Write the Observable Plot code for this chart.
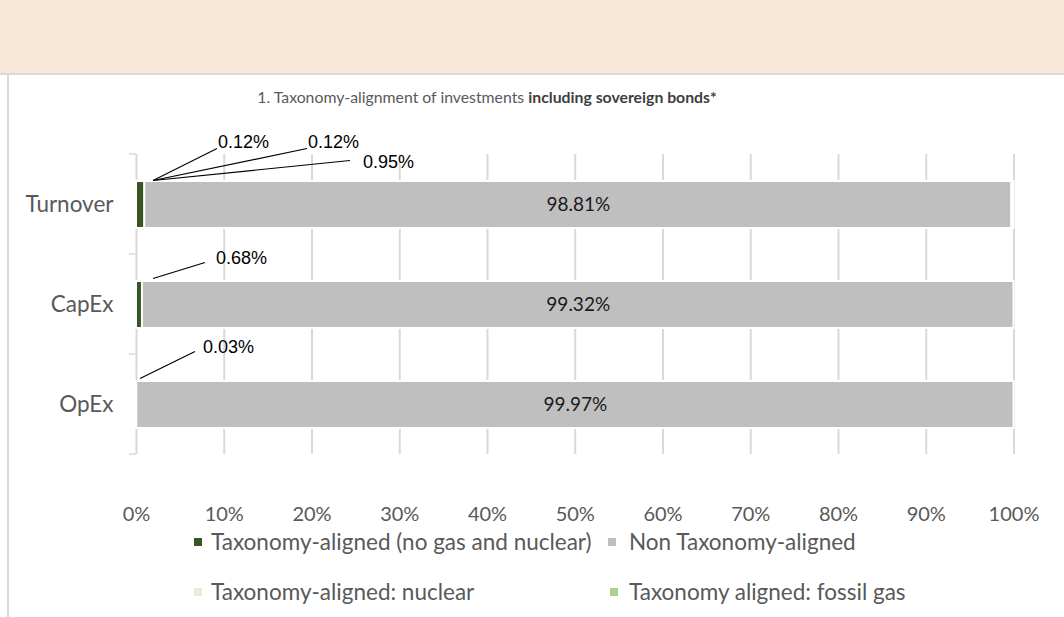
<!DOCTYPE html>
<html>
<head>
<meta charset="utf-8">
<script src="https://cdn.jsdelivr.net/npm/d3@7"></script>
<script src="https://cdn.jsdelivr.net/npm/@observablehq/plot@0.6"></script>
<style>
  html, body { margin: 0; padding: 0; background: #fff; }
  body { width: 1064px; height: 617px; overflow: hidden; position: relative; font-family: Lato, "Open Sans", sans-serif; }
  #band { position: absolute; left: 0; top: 0; width: 1064px; height: 73px; background: #f9e8d7; border-bottom: 2px solid #d9d9d9; }
  #panelLeft { position: absolute; left: 7px; top: 75px; height: 542px; border-left: 2px solid #d9d9d9; }
  #title { position: absolute; left: 0; top: 87px; width: 974px; text-align: center; font-size: 15.8px; line-height: 20px; color: #595959; white-space: nowrap; }
  #title b { color: #404040; }
  #chart { position: absolute; left: 0; top: 0; }
  .leg { position: absolute; font-size: 22.5px; line-height: 26px; color: #595959; white-space: nowrap; }
  .sw { position: absolute; width: 8px; height: 8px; }
</style>
</head>
<body>
<div id="band"></div>
<div id="panelLeft"></div>
<div id="title">1. Taxonomy-alignment of investments <b>including sovereign bonds*</b></div>
<div id="chart"></div>
<div id="legend"></div>
<script>
// ---- data ----
const categories = ["Turnover", "CapEx", "OpEx"];
const seriesNames = [
  "Taxonomy-aligned (no gas and nuclear)",
  "Non Taxonomy-aligned",
  "Taxonomy-aligned: nuclear",
  "Taxonomy aligned: fossil gas"
];
const alignedNoGasNuclear = [0.95, 0.68, 0.03];
const nonAligned = [98.81, 99.32, 99.97];
const nuclear = [0.12, 0, 0];
const fossilGas = [0.12, 0, 0];
const xTicks = [0, 10, 20, 30, 40, 50, 60, 70, 80, 90, 100];
const seriesColors = ["#375623", "#bfbfbf", "#e2efda", "#a9d08e"];

// ---- callout layout (pixel offsets from bar's top-left) ----
const callouts = [
  {category: "Turnover", series: 2, anchor: [17, -0.5], end: [81, -32.5], label: [82, -39.5]},
  {category: "Turnover", series: 3, anchor: [17, -0.5], end: [171, -32.5], label: [172, -39.5]},
  {category: "Turnover", series: 0, anchor: [17, -0.5], end: [214, -20.5], label: [227, -19.5]},
  {category: "CapEx", series: 0, anchor: [17, -2.5], end: [69, -18.5], label: [80, -23]},
  {category: "OpEx", series: 0, anchor: [4, -2.5], end: [59, -29.5], label: [67, -34.5]}
];

const valuesBySeries = [alignedNoGasNuclear, nonAligned, nuclear, fossilGas];
const rows = [];
categories.forEach((c, i) => {
  seriesNames.forEach((s, j) => rows.push({category: c, series: s, value: valuesBySeries[j][i]}));
});
const fmt = v => v.toFixed(2) + "%";

const chart = Plot.plot({
  width: 1064,
  height: 617,
  marginLeft: 136,
  marginRight: 50.5,
  marginTop: 154,
  marginBottom: 163,
  style: {fontFamily: "Lato, sans-serif", background: "transparent", overflow: "visible"},
  x: {domain: [0, 100]},
  y: {domain: categories, paddingInner: 0.53, paddingOuter: 0.265},
  color: {domain: seriesNames, range: seriesColors},
  marks: [
    Plot.ruleX(xTicks, {stroke: "#d9d9d9", strokeWidth: 2}),
    Plot.barX(rows, {x: "value", y: "category", fill: "series", order: seriesNames, stroke: "white", strokeWidth: 2}),
    Plot.text(rows, Plot.stackX({
      x: "value", y: "category", z: "series", order: seriesNames,
      text: d => d.series === seriesNames[1] ? fmt(d.value) : null,
      fill: "#1a1a1a", fontSize: 19, fontFamily: "Lato, sans-serif"
    })),
    Plot.axisX({ticks: xTicks, tickSize: 0, tickPadding: 52, tickFormat: d => d + "%", fontSize: 20, fill: "#595959", label: null}),
    Plot.axisY({tickSize: 0, tickPadding: 23, fontSize: 22.5, fill: "#595959", label: null})
  ]
});
document.getElementById("chart").appendChild(chart);

// y-axis category boundary ticks and callouts, placed with the chart's own scales
const xs = chart.scale("x"), ys = chart.scale("y");
const svg = d3.select(chart);
const x0 = xs.apply(0);
const [r0, r1] = ys.range;
const g = svg.append("g").attr("text-anchor", "start");
for (let k = 0; k <= categories.length; k++) {
  const yy = r0 + k * (r1 - r0) / categories.length;
  g.append("line").attr("x1", x0 - 7).attr("x2", x0).attr("y1", yy).attr("y2", yy)
    .attr("stroke", "#d9d9d9").attr("stroke-width", 1.5);
}
for (const c of callouts) {
  const top = ys.apply(c.category);
  const i = categories.indexOf(c.category);
  g.append("line")
    .attr("x1", x0 + c.anchor[0]).attr("y1", top + c.anchor[1])
    .attr("x2", x0 + c.end[0]).attr("y2", top + c.end[1])
    .attr("stroke", "#000").attr("stroke-width", 1.2);
  g.append("text")
    .attr("x", x0 + c.label[0]).attr("y", top + c.label[1])
    .attr("dy", "0.35em")
    .attr("text-anchor", "start")
    .attr("font-family", "'Liberation Sans', Arial, sans-serif")
    .attr("font-size", 18).attr("fill", "#000")
    .text(fmt(valuesBySeries[c.series][i]));
}

// legend layout: [swatch x, text x, row centre y]
const legend = document.getElementById("legend");
const legPos = [[194, 211, 541.5], [608, 629, 541.5], [194, 211, 592], [610, 629, 592]];
seriesNames.forEach((s, j) => {
  const [sx, tx, ly] = legPos[j];
  const sw = document.createElement("div");
  sw.className = "sw";
  sw.style.left = sx + "px"; sw.style.top = (ly - 4) + "px"; sw.style.background = seriesColors[j];
  legend.appendChild(sw);
  const t = document.createElement("div");
  t.className = "leg";
  t.style.left = tx + "px"; t.style.top = (ly - 13) + "px";
  t.textContent = s;
  legend.appendChild(t);
});
</script>
</body>
</html>
